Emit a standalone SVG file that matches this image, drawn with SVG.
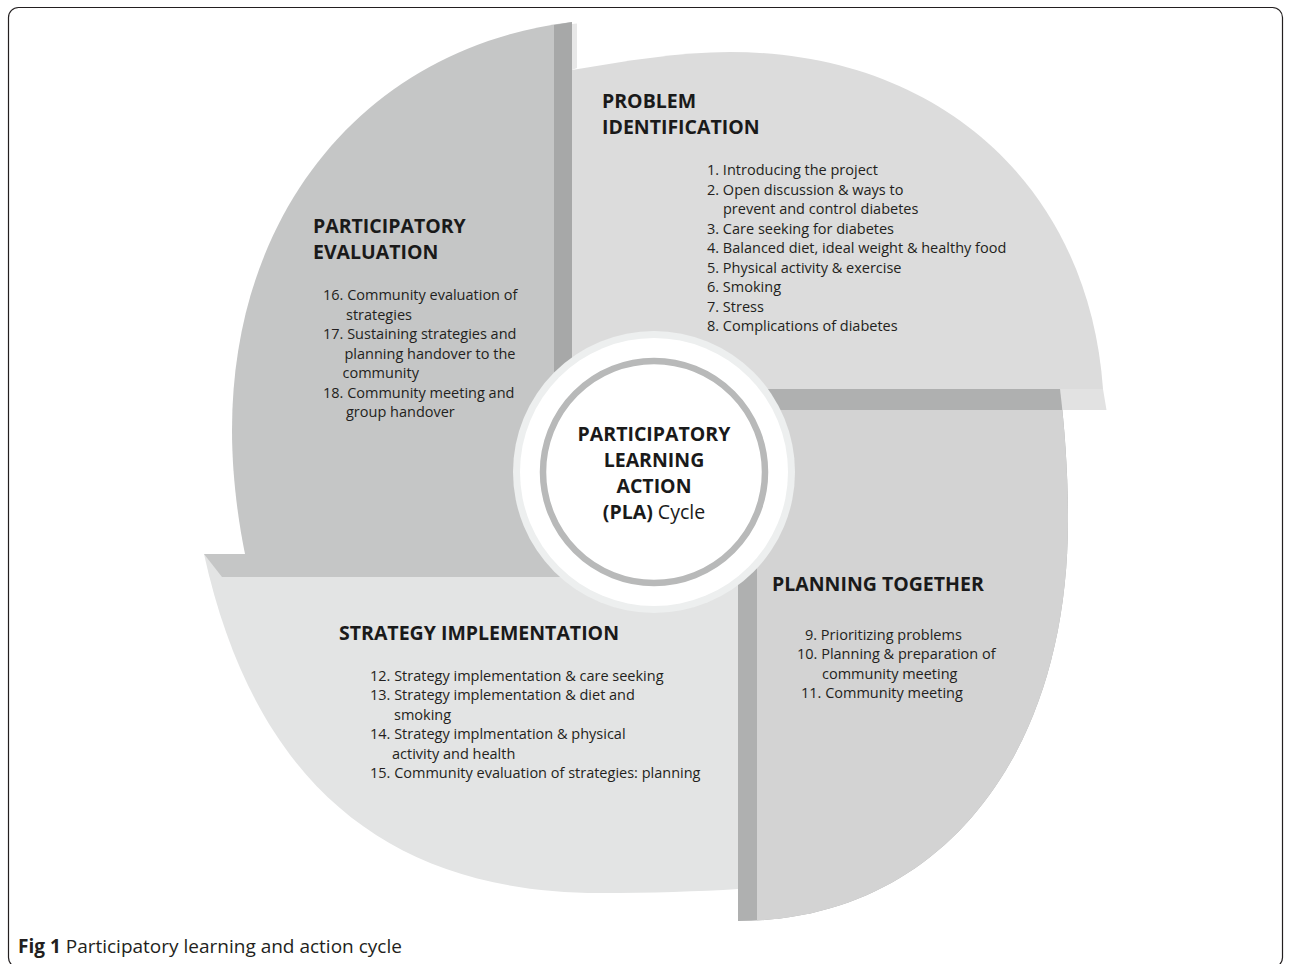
<svg xmlns="http://www.w3.org/2000/svg" width="1290" height="964" viewBox="0 0 1290 964">
<style>
.h{font-family:"Open Sans","Liberation Sans",sans-serif;font-weight:700;font-size:19.5px;fill:#1a1a1a}
.t{font-family:"Open Sans","Liberation Sans",sans-serif;font-size:14.5px;fill:#231f20}
.b{font-weight:700}
.cap{font-family:"Open Sans","Liberation Sans",sans-serif;font-size:19px;fill:#231f20}
</style>
<defs>
<clipPath id="brFace"><rect x="757" y="410" width="600" height="600"/></clipPath>
<path id="brShape" d="M738,389 L1060,389 C1065,430 1068,475 1068,520 C1068,760.6 936,921 738,921 Z"/>
</defs>
<rect x="0" y="0" width="1290" height="964" fill="#ffffff"/>
<rect x="8.5" y="7.5" width="1274" height="960" rx="10" fill="none" stroke="#231f20" stroke-width="1.2"/>

<g id="strategy-implementation">
<path d="M738,554 L204,554 C254.4,783 388,893 600,893 C650,893 700,891.5 738,889 Z" fill="#e3e4e4"/>
<polygon points="204,554 740,554 740,577 222,577" fill="#c5c6c6"/>
<text class="h" x="339" y="640">STRATEGY IMPLEMENTATION</text>
<text class="t" x="370" y="680.5">12. Strategy implementation &amp; care seeking</text>
<text class="t" x="370" y="700">13. Strategy implementation &amp; diet and</text>
<text class="t" x="394" y="719.5">smoking</text>
<text class="t" x="370" y="739">14. Strategy implmentation &amp; physical</text>
<text class="t" x="392" y="758.5">activity and health</text>
<text class="t" x="370" y="778">15. Community evaluation of strategies: planning</text>
</g>

<g id="participatory-evaluation">
<path d="M572,554 L572,22 C368,46.5 232,209.7 232,430 C232,475 238,520 245,554 Z" fill="#c5c6c6"/>
<polygon points="554,25 572,22 572,554 554,554" fill="#a7a8a8"/>
<text class="h" x="313" y="233">PARTICIPATORY</text>
<text class="h" x="313" y="259">EVALUATION</text>
<text class="t" x="323" y="300">16. Community evaluation of</text>
<text class="t" x="346" y="319.5">strategies</text>
<text class="t" x="323" y="339">17. Sustaining strategies and</text>
<text class="t" x="344.5" y="358.5">planning handover to the</text>
<text class="t" x="342.5" y="378">community</text>
<text class="t" x="323" y="397.5">18. Community meeting and</text>
<text class="t" x="346" y="417">group handover</text>
</g>

<g id="problem-identification">
<polygon points="1040,389 1103,389 1106.5,410 1040,410" fill="#e2e2e2"/>
<path d="M572,389 L572,70 C625,61 680,52 730,52 C939.6,52 1088.8,186.8 1103,389 Z" fill="#dcdcdc"/>
<polygon points="572,24 577,23.5 577,68 572,70" fill="#e8e8e8"/>
<text class="h" x="602" y="108">PROBLEM</text>
<text class="h" x="602" y="134">IDENTIFICATION</text>
<text class="t" x="707" y="175">1. Introducing the project</text>
<text class="t" x="707" y="194.5">2. Open discussion &amp; ways to</text>
<text class="t" x="723" y="214">prevent and control diabetes</text>
<text class="t" x="707" y="233.5">3. Care seeking for diabetes</text>
<text class="t" x="707" y="253">4. Balanced diet, ideal weight &amp; healthy food</text>
<text class="t" x="707" y="272.5">5. Physical activity &amp; exercise</text>
<text class="t" x="707" y="292">6. Smoking</text>
<text class="t" x="707" y="311.5">7. Stress</text>
<text class="t" x="707" y="331">8. Complications of diabetes</text>
</g>

<g id="planning-together">
<use href="#brShape" fill="#afb0b0"/>
<use href="#brShape" fill="#d3d3d3" clip-path="url(#brFace)"/>
<text class="h" x="772" y="591">PLANNING TOGETHER</text>
<text class="t" x="805" y="639.5">9. Prioritizing problems</text>
<text class="t" x="797" y="659">10. Planning &amp; preparation of</text>
<text class="t" x="822" y="678.5">community meeting</text>
<text class="t" x="801" y="698">11. Community meeting</text>
</g>

<g id="pla-cycle">
<circle cx="654" cy="472" r="141" fill="#edefef"/>
<circle cx="654" cy="472" r="134" fill="#ffffff"/>
<circle cx="654" cy="472" r="111" fill="#ffffff" stroke="#b8b9b9" stroke-width="6.5"/>
<text class="h" x="654" y="441" text-anchor="middle">PARTICIPATORY</text>
<text class="h" x="654" y="467" text-anchor="middle">LEARNING</text>
<text class="h" x="654" y="493" text-anchor="middle">ACTION</text>
<text class="h" x="654" y="519" text-anchor="middle">(PLA)<tspan font-weight="400"> Cycle</tspan></text>
</g>

<g id="connectors"></g>

<text class="cap" x="18" y="953"><tspan class="b">Fig 1</tspan> Participatory learning and action cycle</text>
</svg>
